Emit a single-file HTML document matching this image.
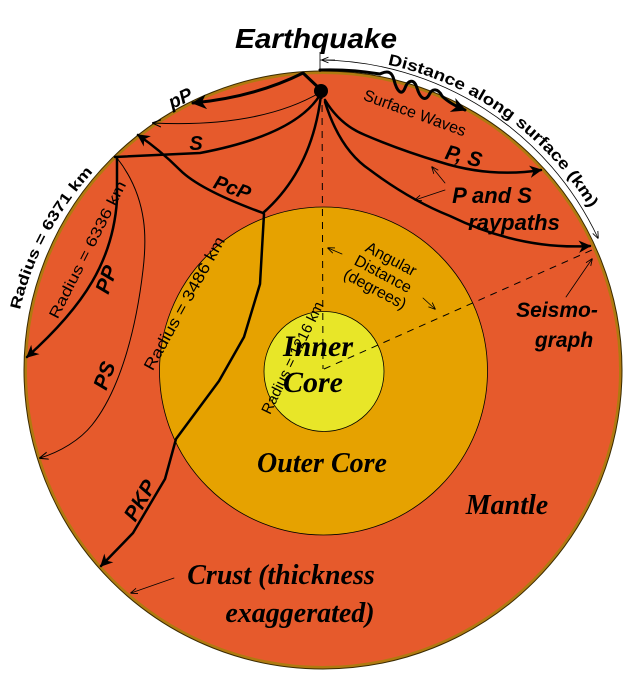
<!DOCTYPE html>
<html><head><meta charset="utf-8"><style>
html,body{margin:0;padding:0;background:#fff;width:641px;height:687px;overflow:hidden}
svg{display:block}
.sb{font-family:"Liberation Sans",sans-serif;font-weight:bold}
.si{font-family:"Liberation Sans",sans-serif;font-weight:bold;font-style:italic}
.ser{font-family:"Liberation Serif",serif;font-weight:bold;font-style:italic}
.sn{font-family:"Liberation Sans",sans-serif}
</style></head><body>
<svg width="641" height="687" viewBox="0 0 641 687" xmlns="http://www.w3.org/2000/svg">
<defs>
<marker id="a" viewBox="0 0 10 10" refX="9" refY="5" markerWidth="5" markerHeight="5" orient="auto-start-reverse"><path d="M0,0 L10,5 L0,10 L3,5 z" fill="#000"/></marker>
<marker id="t" viewBox="0 0 10 10" refX="9" refY="5" markerWidth="9" markerHeight="9" orient="auto"><path d="M0,1 L10,5 L0,9" fill="none" stroke="#000" stroke-width="1.2"/></marker>
<path id="arcT" d="M 323,58 A 312,312 0 0 1 635,370"/>
<path id="arcR" d="M 20,310 A 306,306 0 0 1 110,155"/>
</defs>
<circle cx="323" cy="370" r="299" fill="#b07a10" stroke="#3a2a00" stroke-width="1"/>
<circle cx="323" cy="370" r="296" fill="#e65a2c"/>
<circle cx="323.5" cy="371" r="164" fill="#e6a200" stroke="#000" stroke-width="0.8"/>
<circle cx="324" cy="371.5" r="60" fill="#e8e628" stroke="#000" stroke-width="0.8"/>
<line x1="322" y1="92" x2="323" y2="369" stroke="#000" stroke-width="1" stroke-dasharray="7,6"/>
<line x1="324" y1="369" x2="592" y2="250" stroke="#000" stroke-width="1" stroke-dasharray="7,6"/>
<path d="M 320,60 A 310,310 0 0 1 598,238" fill="none" stroke="#000" stroke-width="0.8" marker-end="url(#t)"/>
<line x1="320" y1="52" x2="320" y2="72" stroke="#000" stroke-width="0.8"/>
<path d="M 335,60 L 322,60" stroke="#000" stroke-width="0.8" marker-end="url(#t)"/>
<g fill="none" stroke="#000" stroke-linecap="round" stroke-linejoin="round">
<path d="M321,90 L303,73 Q255,97 193,103" stroke-width="3" marker-end="url(#a)"/>
<path d="M321,92 Q260,128 153,123" stroke-width="1" marker-end="url(#t)"/>
<path d="M320,95 Q295,135 200,153 L115,157" stroke-width="2.5"/>
<path d="M321,95 Q312,170 263,213" stroke-width="2.5"/>
<path d="M263,213 Q200,190 180,170 Q160,150 138,135" stroke-width="2.5" marker-end="url(#a)"/>
<path d="M117,158 L117,200 C113,260 85,305 27,357" stroke-width="2.5" marker-end="url(#a)"/>
<path d="M117,158 C150,200 146,245 143,270 C136,330 120,390 92,425 C80,440 60,452 40,458" stroke-width="1" marker-end="url(#t)"/>
<path d="M264,214 L260,284 L244,337 L219,381 L176,439 L165,479 L133,533 L101,566" stroke-width="2.5" marker-end="url(#a)"/>
<path d="M320,70 Q350,69 380,74 C388,70 392,72 394,80 C397,92 402,96 405,88 C408,80 414,78 417,88 C420,98 425,102 429,95 C432,88 438,88 442,96 Q450,104 465,110" stroke-width="3" marker-end="url(#a)"/>
<path d="M325,100 Q340,125 365,135 Q400,150 440,162 Q490,178 541,170" stroke-width="2.5" marker-end="url(#a)"/>
<path d="M325,102 Q340,150 370,170 Q410,200 450,216 Q520,250 590,246" stroke-width="2.5" marker-end="url(#a)"/>
<path d="M445,183 L432,167" stroke-width="0.8" marker-end="url(#t)"/>
<path d="M445,190 L415,200" stroke-width="0.8" marker-end="url(#t)"/>
<path d="M566,297 L592,259" stroke-width="0.8" marker-end="url(#t)"/>
<path d="M174,578 L131,593" stroke-width="0.8" marker-end="url(#t)"/>
<path d="M342,254 L328,248" stroke-width="0.8" marker-end="url(#t)"/>
<path d="M423,298 L435,309" stroke-width="0.8" marker-end="url(#t)"/>
</g>
<circle cx="321" cy="91" r="7" fill="#000"/>
<text class="si" x="316" y="48" font-size="28" text-anchor="middle" textLength="162" lengthAdjust="spacingAndGlyphs">Earthquake</text>
<text class="sb" font-size="16"><textPath href="#arcT" startOffset="65" textLength="255" lengthAdjust="spacingAndGlyphs">Distance along surface (km)</textPath></text>
<text class="si" font-size="19" transform="translate(183,104) rotate(-25)" text-anchor="middle">pP</text>
<text class="si" font-size="20" x="196" y="150" text-anchor="middle">S</text>
<text class="si" font-size="20" transform="translate(230,194) rotate(20)" text-anchor="middle">PcP</text>
<text class="si" font-size="21" transform="translate(113,282) rotate(-70)" text-anchor="middle">PP</text>
<text class="si" font-size="21" transform="translate(111,378) rotate(-70)" text-anchor="middle">PS</text>
<text class="si" font-size="21" transform="translate(146,504) rotate(-60)" text-anchor="middle">PKP</text>
<text class="sn" font-size="16" transform="translate(413,118) rotate(20)" text-anchor="middle">Surface Waves</text>
<text class="si" font-size="21" transform="translate(462,163) rotate(14)" text-anchor="middle">P, S</text>
<text class="si" font-size="22" x="492" y="203" text-anchor="middle">P and S</text>
<text class="si" font-size="22" x="514" y="230" text-anchor="middle">raypaths</text>
<text class="si" font-size="21" x="557" y="317" text-anchor="middle">Seismo-</text>
<text class="si" font-size="21" x="564" y="347" text-anchor="middle">graph</text>
<text class="sb" font-size="15"><textPath href="#arcR" textLength="158" lengthAdjust="spacingAndGlyphs">Radius = 6371 km</textPath></text>
<text class="sn" font-size="15" transform="translate(92,252) rotate(-63)" text-anchor="middle" textLength="152" lengthAdjust="spacingAndGlyphs">Radius = 6336 km</text>
<text class="sn" font-size="16" transform="translate(189,306) rotate(-61)" text-anchor="middle" textLength="150" lengthAdjust="spacingAndGlyphs">Radius = 3486 km</text>
<text class="sn" font-size="15" transform="translate(297,360) rotate(-64)" text-anchor="middle" textLength="123" lengthAdjust="spacingAndGlyphs">Radius = 1216 km</text>
<g class="sn" font-size="16" transform="translate(382,276) rotate(28)" text-anchor="middle">
<text x="0" y="-14">Angular</text><text x="0" y="3">Distance</text><text x="0" y="20">(degrees)</text></g>
<text class="ser" font-size="30" x="318" y="356" text-anchor="middle">Inner</text>
<text class="ser" font-size="30" x="313" y="392" text-anchor="middle">Core</text>
<text class="ser" font-size="28" x="322" y="472" text-anchor="middle">Outer Core</text>
<text class="ser" font-size="28" x="507" y="514" text-anchor="middle">Mantle</text>
<text class="ser" font-size="28" x="281" y="584" text-anchor="middle">Crust (thickness</text>
<text class="ser" font-size="28" x="300" y="622" text-anchor="middle">exaggerated)</text>
</svg>
</body></html>
